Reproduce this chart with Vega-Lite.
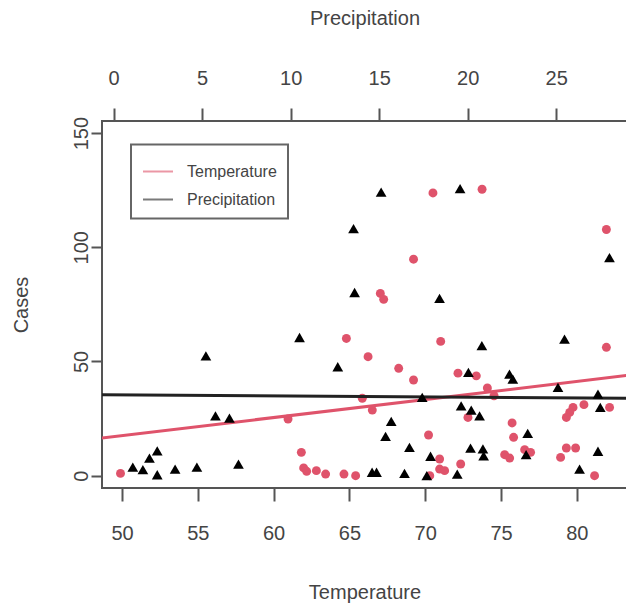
{
  "$schema": "https://vega.github.io/schema/vega-lite/v6.json",
  "width": 525,
  "height": 367,
  "autosize": {"type": "none"},
  "padding": {"left": 102, "top": 121, "right": 0, "bottom": 120},
  "background": "white",
  "config": {
    "view": {"stroke": "#555555", "strokeWidth": 2},
    "font": "Liberation Sans",
    "axis": {
      "domain": false, "grid": false,
      "tickColor": "#555555", "tickWidth": 2, "tickSize": 13,
      "labelFont": "Liberation Sans", "labelFontSize": 20, "labelColor": "#444444",
      "titleFont": "Liberation Sans", "titleFontSize": 20, "titleColor": "#444444", "titleFontWeight": "normal"
    },
    "legend": {
      "orient": "none", "legendX": 29, "legendY": 23.5,
      "strokeColor": "#666666", "strokeWidth": 2, "fillColor": "white",
      "padding": 11, "symbolType": "stroke", "symbolSize": 900, "symbolStrokeWidth": 2, "symbolOpacity": 0.6,
      "labelFont": "Liberation Sans", "labelFontSize": 16, "labelColor": "#444444",
      "labelOffset": 13, "rowPadding": 4
    }
  },
  "datasets": {
    "temp": [
      {"Temperature": 49.9, "Cases": 1.0},
      {"Temperature": 70.51, "Cases": 123.8},
      {"Temperature": 69.23, "Cases": 94.8},
      {"Temperature": 67.04, "Cases": 79.8},
      {"Temperature": 67.26, "Cases": 77.2},
      {"Temperature": 73.75, "Cases": 125.4},
      {"Temperature": 81.95, "Cases": 107.8},
      {"Temperature": 64.8, "Cases": 60.1},
      {"Temperature": 66.23, "Cases": 52.1},
      {"Temperature": 68.25, "Cases": 47.0},
      {"Temperature": 69.23, "Cases": 41.9},
      {"Temperature": 71.02, "Cases": 58.8},
      {"Temperature": 65.85, "Cases": 33.9},
      {"Temperature": 66.51, "Cases": 28.7},
      {"Temperature": 60.95, "Cases": 24.8},
      {"Temperature": 70.22, "Cases": 17.8},
      {"Temperature": 61.83, "Cases": 10.2},
      {"Temperature": 70.95, "Cases": 7.3},
      {"Temperature": 70.95, "Cases": 2.9},
      {"Temperature": 71.28, "Cases": 2.2},
      {"Temperature": 61.98, "Cases": 3.4},
      {"Temperature": 62.18, "Cases": 1.9},
      {"Temperature": 62.82, "Cases": 2.2},
      {"Temperature": 63.43, "Cases": 0.7},
      {"Temperature": 64.64, "Cases": 0.7},
      {"Temperature": 65.41, "Cases": 0},
      {"Temperature": 70.3, "Cases": 0},
      {"Temperature": 72.16, "Cases": 44.9},
      {"Temperature": 73.37, "Cases": 43.7},
      {"Temperature": 74.1, "Cases": 38.4},
      {"Temperature": 74.54, "Cases": 35.0},
      {"Temperature": 72.82, "Cases": 25.5},
      {"Temperature": 79.75, "Cases": 29.9},
      {"Temperature": 79.53, "Cases": 27.7},
      {"Temperature": 79.31, "Cases": 25.5},
      {"Temperature": 80.47, "Cases": 31.1},
      {"Temperature": 82.16, "Cases": 29.9},
      {"Temperature": 75.73, "Cases": 23.1},
      {"Temperature": 75.83, "Cases": 16.8},
      {"Temperature": 75.24, "Cases": 9.2},
      {"Temperature": 75.57, "Cases": 7.7},
      {"Temperature": 76.56, "Cases": 11.4},
      {"Temperature": 76.95, "Cases": 10.2},
      {"Temperature": 79.31, "Cases": 12.1},
      {"Temperature": 79.92, "Cases": 12.1},
      {"Temperature": 78.93, "Cases": 8.0},
      {"Temperature": 72.34, "Cases": 5.1},
      {"Temperature": 81.17, "Cases": 0},
      {"Temperature": 81.95, "Cases": 56.2}
    ],
    "precip": [
      {"Precipitation": 15.11, "Cases": 124.2},
      {"Precipitation": 13.55, "Cases": 108.2},
      {"Precipitation": 13.61, "Cases": 80.2},
      {"Precipitation": 18.41, "Cases": 77.6},
      {"Precipitation": 19.57, "Cases": 125.7},
      {"Precipitation": 28.01, "Cases": 95.5},
      {"Precipitation": 5.21, "Cases": 52.5},
      {"Precipitation": 5.75, "Cases": 26.2},
      {"Precipitation": 6.54, "Cases": 25.2},
      {"Precipitation": 7.05, "Cases": 5.1},
      {"Precipitation": 2.46, "Cases": 10.9},
      {"Precipitation": 2.02, "Cases": 7.7},
      {"Precipitation": 1.08, "Cases": 3.7},
      {"Precipitation": 1.65, "Cases": 2.6},
      {"Precipitation": 2.46, "Cases": 0.4},
      {"Precipitation": 3.47, "Cases": 2.9},
      {"Precipitation": 4.7, "Cases": 3.7},
      {"Precipitation": 10.5, "Cases": 60.5},
      {"Precipitation": 12.66, "Cases": 47.7},
      {"Precipitation": 17.43, "Cases": 34.3},
      {"Precipitation": 15.68, "Cases": 23.8},
      {"Precipitation": 15.36, "Cases": 17.2},
      {"Precipitation": 16.71, "Cases": 12.4},
      {"Precipitation": 17.9, "Cases": 8.5},
      {"Precipitation": 14.6, "Cases": 1.5},
      {"Precipitation": 14.85, "Cases": 1.5},
      {"Precipitation": 16.43, "Cases": 1.0},
      {"Precipitation": 17.69, "Cases": 0},
      {"Precipitation": 20.8, "Cases": 56.9},
      {"Precipitation": 25.47, "Cases": 59.8},
      {"Precipitation": 20.04, "Cases": 45.2},
      {"Precipitation": 22.36, "Cases": 44.5},
      {"Precipitation": 22.55, "Cases": 42.3},
      {"Precipitation": 25.1, "Cases": 38.7},
      {"Precipitation": 27.36, "Cases": 35.7},
      {"Precipitation": 19.63, "Cases": 30.6},
      {"Precipitation": 20.2, "Cases": 28.7},
      {"Precipitation": 20.67, "Cases": 26.2},
      {"Precipitation": 27.49, "Cases": 29.9},
      {"Precipitation": 23.39, "Cases": 18.5},
      {"Precipitation": 20.16, "Cases": 12.1},
      {"Precipitation": 20.86, "Cases": 11.7},
      {"Precipitation": 20.9, "Cases": 8.7},
      {"Precipitation": 23.3, "Cases": 9.2},
      {"Precipitation": 27.36, "Cases": 10.7},
      {"Precipitation": 19.41, "Cases": 0.7},
      {"Precipitation": 26.32, "Cases": 2.9}
    ],
    "fit_temp": [
      {"series": "Temperature", "Temperature": 45, "Cases": 13.6},
      {"series": "Temperature", "Temperature": 85, "Cases": 45.2}
    ],
    "fit_precip": [
      {"series": "Precipitation", "Precipitation": -2, "Cases": 35.47},
      {"series": "Precipitation", "Precipitation": 30, "Cases": 33.85}
    ]
  },
  "layer": [
    {
      "layer": [
        {
          "data": {"name": "fit_temp"},
          "mark": {"type": "line", "clip": true, "strokeWidth": 3},
          "encoding": {
            "x": {"field": "Temperature", "type": "quantitative",
                  "scale": {"domain": [48.68, 83.31], "nice": false, "zero": false},
                  "axis": {"orient": "bottom", "values": [50, 55, 60, 65, 70, 75, 80], "title": "Temperature",
                           "labelPadding": 22, "titlePadding": 39}},
            "y": {"field": "Cases", "type": "quantitative",
                  "scale": {"domain": [-5.4, 155.3], "nice": false, "zero": false},
                  "axis": {"orient": "left", "values": [0, 50, 100, 150], "title": "Cases",
                           "tickSize": 11, "labelAngle": -90, "labelAlign": "center", "labelBaseline": "bottom",
                           "labelPadding": 0, "titlePadding": 40}},
            "color": {"field": "series", "type": "nominal",
                      "scale": {"domain": ["Temperature", "Precipitation"], "range": ["#DF536B", "#222222"]},
                      "legend": {"title": null}}
          }
        },
        {
          "data": {"name": "temp"},
          "mark": {"type": "point", "shape": "circle", "filled": true, "size": 80, "color": "#DF536B", "opacity": 1},
          "encoding": {
            "x": {"field": "Temperature", "type": "quantitative"},
            "y": {"field": "Cases", "type": "quantitative"}
          }
        }
      ]
    },
    {
      "layer": [
        {
          "data": {"name": "fit_precip"},
          "mark": {"type": "line", "clip": true, "strokeWidth": 3},
          "encoding": {
            "x": {"field": "Precipitation", "type": "quantitative",
                  "scale": {"domain": [-0.66, 29.0], "nice": false, "zero": false},
                  "axis": {"orient": "top", "values": [0, 5, 10, 15, 20, 25], "title": "Precipitation",
                           "labelPadding": 20, "titlePadding": 40}},
            "y": {"field": "Cases", "type": "quantitative"},
            "color": {"field": "series", "type": "nominal"}
          }
        },
        {
          "data": {"name": "precip"},
          "mark": {"type": "point", "shape": "triangle-up", "filled": true, "size": 115, "color": "#000000", "opacity": 1},
          "encoding": {
            "x": {"field": "Precipitation", "type": "quantitative"},
            "y": {"field": "Cases", "type": "quantitative"}
          }
        }
      ]
    }
  ],
  "resolve": {"scale": {"x": "independent"}, "axis": {"x": "independent"}}
}
